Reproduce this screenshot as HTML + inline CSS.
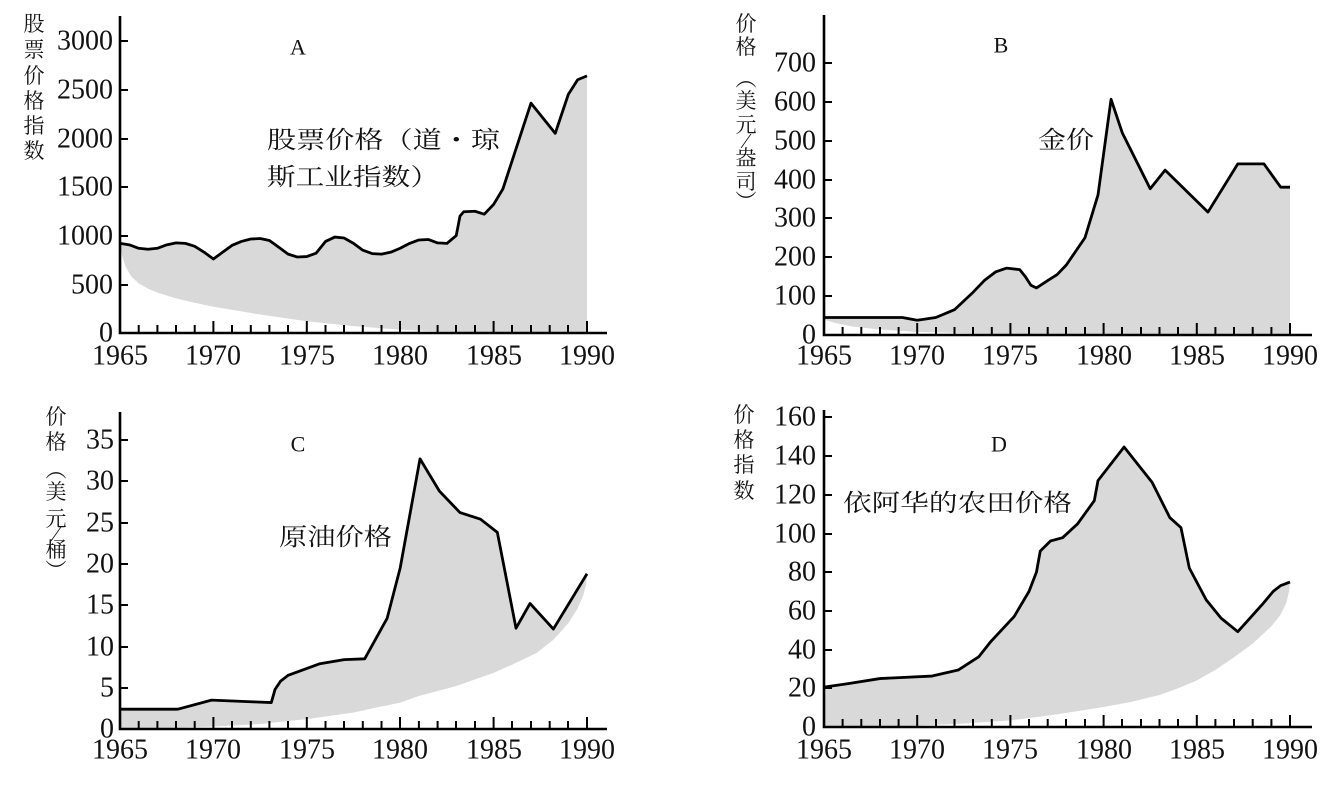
<!DOCTYPE html>
<html><head><meta charset="utf-8"><style>
html,body{margin:0;padding:0;background:#fff;}
svg{display:block}
text{font-family:"Liberation Serif","Noto Serif CJK SC",serif;fill:#111}
.c{font-family:"Liberation Serif","Noto Serif CJK SC",serif}
.n{font-size:28px}
.ax{stroke:#000;stroke-width:2.6;fill:none}
.tk{stroke:#000;stroke-width:2;fill:none}
.ln{fill:none;stroke:#000;stroke-width:2.8;stroke-linejoin:round;vector-effect:non-scaling-stroke}
.gr{fill:#d9d9d9;stroke:none}
</style></head><body>
<svg width="1337" height="786" viewBox="0 0 1337 786" xmlns="http://www.w3.org/2000/svg">

<!-- Panel A -->
<g transform="translate(120,333) scale(18.68,-0.0974)">
<polygon class="gr" points="0,920 0.5,905 1,870 1.5,860 2,870 2.5,905 3,925 3.5,920 4,890 4.5,830 5,760 5.5,830 6,900 6.5,940 7,965 7.5,970 8,950 8.5,880 9,810 9.5,780 10,785 10.5,820 11,940 11.5,985 12,975 12.5,920 13,850 13.5,815 14,810 14.5,830 15,870 15.5,920 16,955 16.5,960 17,925 17.5,920 18,1000 18.2,1200 18.4,1245 19,1250 19.5,1220 20,1320 20.5,1480 22,2360 23.3,2050 24,2450 24.5,2600 25,2640 25,0 22,0 20,3 18,12 16,25 15,35 12.5,70 10,120 7.5,190 5,270 4,310 3,355 2,415 1.5,455 1,510 0.6,580 0.3,680 0.1,800 0,900"/>
<polyline class="ln" points="0,920 0.5,905 1,870 1.5,860 2,870 2.5,905 3,925 3.5,920 4,890 4.5,830 5,760 5.5,830 6,900 6.5,940 7,965 7.5,970 8,950 8.5,880 9,810 9.5,780 10,785 10.5,820 11,940 11.5,985 12,975 12.5,920 13,850 13.5,815 14,810 14.5,830 15,870 15.5,920 16,955 16.5,960 17,925 17.5,920 18,1000 18.2,1200 18.4,1245 19,1250 19.5,1220 20,1320 20.5,1480 22,2360 23.3,2050 24,2450 24.5,2600 25,2640"/>
</g>
<path class="ax" d="M120,16 V333 H607"/>
<path class="tk" d="M120,41h8M120,90h8M120,139h8M120,187h8M120,236h8M120,285h8"/>
<path class="tk" d="M138.7,333v-8M157.4,333v-8M176,333v-8M194.7,333v-8M213.4,333v-12M232,333v-8M250.8,333v-8M269.4,333v-8M288,333v-8M306.8,333v-12M325.5,333v-8M344,333v-8M362.8,333v-8M381.5,333v-8M400,333v-12M418.9,333v-8M437.6,333v-8M456,333v-8M475,333v-8M493.6,333v-12M512,333v-8M531,333v-8M549.7,333v-8M568,333v-8M587,333v-12"/>
<g class="n" text-anchor="end" dominant-baseline="central">
<text x="113" y="41">3000</text><text x="113" y="90">2500</text><text x="113" y="139">2000</text><text x="113" y="187">1500</text><text x="113" y="236">1000</text><text x="113" y="285">500</text><text x="113" y="333">0</text></g>
<g class="n" text-anchor="middle" dominant-baseline="central">
<text x="120" y="356">1965</text><text x="213" y="356">1970</text><text x="307" y="356">1975</text><text x="400" y="356">1980</text><text x="494" y="356">1985</text><text x="587" y="356">1990</text></g>
<text x="298" y="47" font-size="22" text-anchor="middle" dominant-baseline="central">A</text>
<g class="c" font-size="21" text-anchor="middle" dominant-baseline="central">
<text x="34" y="24">股</text><text x="34" y="50">票</text><text x="34" y="76">价</text><text x="34" y="101">格</text><text x="34" y="126">指</text><text x="34" y="151">数</text></g>
<g class="c" font-size="24" dominant-baseline="central">
<text x="267" y="141" textLength="233" lengthAdjust="spacingAndGlyphs">股票价格（道・琼</text>
<text x="267" y="178" textLength="172" lengthAdjust="spacingAndGlyphs">斯工业指数）</text></g>

<!-- Panel B -->
<g transform="translate(824,335) scale(18.64,-0.389)">
<polygon class="gr" points="0,45 4.2,45 5,38 6,45 7,65 8,110 8.6,140 9.2,162 9.8,172 10.5,168 10.8,150 11.1,128 11.4,121 12,140 12.5,155 13,180 14,250 14.7,360 15.4,606 16,520 17.5,376 18.3,424 20.6,316 22.2,440 23.6,440 24.5,380 25,380 25,0 15,0 10,2 5,8 3,14 1.5,22 0.5,32 0,40"/>
<polyline class="ln" points="0,45 4.2,45 5,38 6,45 7,65 8,110 8.6,140 9.2,162 9.8,172 10.5,168 10.8,150 11.1,128 11.4,121 12,140 12.5,155 13,180 14,250 14.7,360 15.4,606 16,520 17.5,376 18.3,424 20.6,316 22.2,440 23.6,440 24.5,380 25,380"/>
</g>
<path class="ax" d="M824,15 V335 H1312"/>
<path class="tk" d="M824,63h8M824,102h8M824,141h8M824,180h8M824,218h8M824,257h8M824,296h8"/>
<path class="tk" d="M842.6,335v-8M861.3,335v-8M880,335v-8M898.6,335v-8M917.2,335v-12M936,335v-8M954.5,335v-8M973,335v-8M991.8,335v-8M1010.4,335v-12M1029,335v-8M1047.7,335v-8M1066,335v-8M1085,335v-8M1103.6,335v-12M1122,335v-8M1141,335v-8M1159.5,335v-8M1178,335v-8M1196.8,335v-12M1215.4,335v-8M1234,335v-8M1252.7,335v-8M1271.4,335v-8M1290,335v-12"/>
<g class="n" text-anchor="end" dominant-baseline="central">
<text x="816" y="63">700</text><text x="816" y="102">600</text><text x="816" y="141">500</text><text x="816" y="180">400</text><text x="816" y="218">300</text><text x="816" y="257">200</text><text x="816" y="296">100</text><text x="816" y="335">0</text></g>
<g class="n" text-anchor="middle" dominant-baseline="central">
<text x="824" y="356">1965</text><text x="917" y="356">1970</text><text x="1010" y="356">1975</text><text x="1104" y="356">1980</text><text x="1197" y="356">1985</text><text x="1290" y="356">1990</text></g>
<text x="1001" y="45" font-size="22" text-anchor="middle" dominant-baseline="central">B</text>
<g class="c" font-size="21" text-anchor="middle" dominant-baseline="central">
<text x="746" y="24">价</text><text x="746" y="47">格</text><text x="746" y="79">︵</text><text x="746" y="101">美</text><text x="746" y="125">元</text><text x="746" y="141">⁄</text><text x="746" y="158">盎</text><text x="746" y="182">司</text><text x="746" y="202">︶</text></g>
<text class="c" x="1038" y="141" font-size="24" dominant-baseline="central" textLength="56" lengthAdjust="spacingAndGlyphs">金价</text>

<!-- Panel C -->
<g transform="translate(120,729) scale(18.68,-8.26)">
<polygon class="gr" points="0,2.4 3.1,2.4 4.9,3.5 7,3.3 8.1,3.2 8.3,4.8 8.6,5.8 9,6.5 10.7,7.9 12,8.4 13.1,8.5 14.3,13.4 15,19.5 16.06,32.7 17.1,28.8 18.2,26.2 19.3,25.4 20.2,23.8 21.2,12.2 21.95,15.2 23.2,12.1 25,18.8 24.95,17.5 24.8,16.2 24.5,14.6 24,12.8 23.2,10.8 22.3,9.2 21,7.8 20,6.8 18,5.2 16,4 15,3.2 12.5,2 10,1.2 7.5,0.6 5,0.3 2.5,0.1 0,0.05"/>
<polyline class="ln" points="0,2.4 3.1,2.4 4.9,3.5 7,3.3 8.1,3.2 8.3,4.8 8.6,5.8 9,6.5 10.7,7.9 12,8.4 13.1,8.5 14.3,13.4 15,19.5 16.06,32.7 17.1,28.8 18.2,26.2 19.3,25.4 20.2,23.8 21.2,12.2 21.95,15.2 23.2,12.1 25,18.8"/>
</g>
<path class="ax" d="M120,412 V729 H607"/>
<path class="tk" d="M120,440h8M120,481h8M120,523h8M120,564h8M120,605h8M120,647h8M120,688h8"/>
<path class="tk" d="M138.7,729v-8M157.4,729v-8M176,729v-8M194.7,729v-8M213.4,729v-12M232,729v-8M250.8,729v-8M269.4,729v-8M288,729v-8M306.8,729v-12M325.5,729v-8M344,729v-8M362.8,729v-8M381.5,729v-8M400,729v-12M418.9,729v-8M437.6,729v-8M456,729v-8M475,729v-8M493.6,729v-12M512,729v-8M531,729v-8M549.7,729v-8M568,729v-8M587,729v-12"/>
<g class="n" text-anchor="end" dominant-baseline="central">
<text x="114" y="440">35</text><text x="114" y="481">30</text><text x="114" y="523">25</text><text x="114" y="564">20</text><text x="114" y="605">15</text><text x="114" y="647">10</text><text x="114" y="688">5</text><text x="114" y="729">0</text></g>
<g class="n" text-anchor="middle" dominant-baseline="central">
<text x="120" y="750">1965</text><text x="213" y="750">1970</text><text x="307" y="750">1975</text><text x="400" y="750">1980</text><text x="494" y="750">1985</text><text x="587" y="750">1990</text></g>
<text x="298" y="444" font-size="22" text-anchor="middle" dominant-baseline="central">C</text>
<g class="c" font-size="21" text-anchor="middle" dominant-baseline="central">
<text x="56" y="417">价</text><text x="56" y="442">格</text><text x="56" y="470">︵</text><text x="56" y="492">美</text><text x="56" y="519">元</text><text x="56" y="534">⁄</text><text x="56" y="550">桶</text><text x="56" y="571">︶</text></g>
<text class="c" x="279" y="538" font-size="24" dominant-baseline="central" textLength="113" lengthAdjust="spacingAndGlyphs">原油价格</text>

<!-- Panel D -->
<g transform="translate(824,727) scale(18.64,-1.9375)">
<polygon class="gr" points="0,20.6 1.3,22.4 3,25 5.8,26.3 7.2,29.4 8.3,36.2 8.94,44 10.2,57 11,70 11.4,80 11.6,90.8 12.15,96 12.8,97.7 13.6,104.8 14.5,116.8 14.7,127.2 16.1,144.5 17.6,126.3 18.55,108.1 19.15,102.9 19.6,82 20.5,65.7 21.3,56.2 22.2,49.2 23.5,63.1 24.1,70 24.5,73 25,74.8 24.95,70 24.8,64 24.5,58 24,52 23.5,47.5 23,43 22,36 21,29.5 20,24 19,20 18,16.5 16.5,13 15,10.3 12.5,6.5 10,3.4 7.5,1.8 5,0.7 2.5,0.2 0,0"/>
<polyline class="ln" points="0,20.6 1.3,22.4 3,25 5.8,26.3 7.2,29.4 8.3,36.2 8.94,44 10.2,57 11,70 11.4,80 11.6,90.8 12.15,96 12.8,97.7 13.6,104.8 14.5,116.8 14.7,127.2 16.1,144.5 17.6,126.3 18.55,108.1 19.15,102.9 19.6,82 20.5,65.7 21.3,56.2 22.2,49.2 23.5,63.1 24.1,70 24.5,73 25,74.8"/>
</g>
<path class="ax" d="M824,410 V727 H1312"/>
<path class="tk" d="M824,417h8M824,456h8M824,495h8M824,534h8M824,572h8M824,611h8M824,650h8M824,688h8"/>
<path class="tk" d="M842.6,727v-8M861.3,727v-8M880,727v-8M898.6,727v-8M917.2,727v-12M936,727v-8M954.5,727v-8M973,727v-8M991.8,727v-8M1010.4,727v-12M1029,727v-8M1047.7,727v-8M1066,727v-8M1085,727v-8M1103.6,727v-12M1122,727v-8M1141,727v-8M1159.5,727v-8M1178,727v-8M1196.8,727v-12M1215.4,727v-8M1234,727v-8M1252.7,727v-8M1271.4,727v-8M1290,727v-12"/>
<g class="n" text-anchor="end" dominant-baseline="central">
<text x="816" y="417">160</text><text x="816" y="456">140</text><text x="816" y="495">120</text><text x="816" y="534">100</text><text x="816" y="572">80</text><text x="816" y="611">60</text><text x="816" y="650">40</text><text x="816" y="688">20</text><text x="816" y="727">0</text></g>
<g class="n" text-anchor="middle" dominant-baseline="central">
<text x="824" y="750">1965</text><text x="917" y="750">1970</text><text x="1010" y="750">1975</text><text x="1104" y="750">1980</text><text x="1197" y="750">1985</text><text x="1290" y="750">1990</text></g>
<text x="999" y="444" font-size="22" text-anchor="middle" dominant-baseline="central">D</text>
<g class="c" font-size="21" text-anchor="middle" dominant-baseline="central">
<text x="744" y="415">价</text><text x="744" y="440">格</text><text x="744" y="465">指</text><text x="744" y="491">数</text></g>
<text class="c" x="843" y="504" font-size="24" dominant-baseline="central" textLength="229" lengthAdjust="spacingAndGlyphs">依阿华的农田价格</text>
</svg>
</body></html>
